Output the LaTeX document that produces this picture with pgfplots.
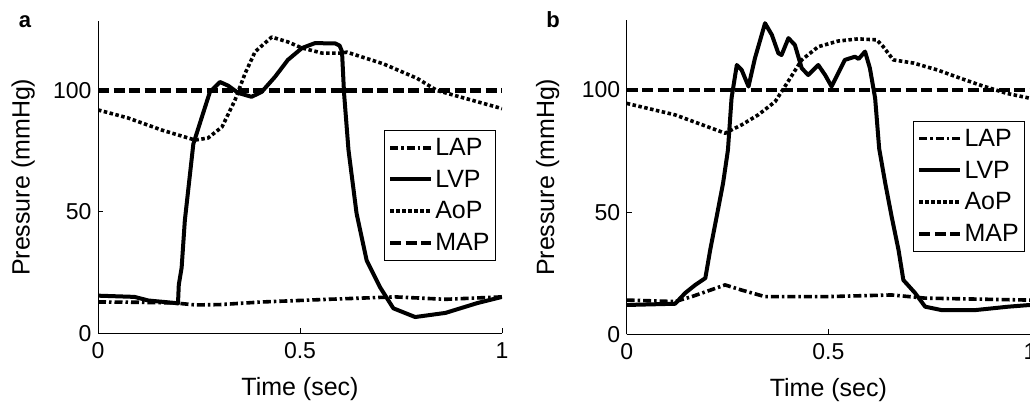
\documentclass[border=0pt]{standalone}
\usepackage{fontspec}
\setmainfont{Liberation Sans}
\usepackage{pgfplots}
\usepackage{pgfplotstable}
\pgfplotsset{compat=1.18}

% panel a
\pgfplotstableread{
t p
0 12.9
0.09 12.8
0.19 12.5
0.24 11.7
0.30 11.8
0.405 12.9
0.57 14
0.735 15
0.86 14
1.0 15
}\lapA
\pgfplotstableread{
t p
0 15.5
0.09 15
0.125 13.5
0.19 12.5
0.198 12.3
0.200 20
0.207 27
0.215 46.6
0.236 78
0.257 89
0.277 99.4
0.302 103.5
0.322 102
0.347 99
0.38 97.4
0.405 99.4
0.438 105.6
0.47 112.6
0.505 117.5
0.537 119.5
0.587 119.4
0.598 118.5
0.604 116
0.609 99
0.62 75.5
0.64 49.4
0.665 30
0.698 19
0.731 10.3
0.785 6.7
0.86 8.4
0.94 12.5
1.0 15
}\lvpA
\pgfplotstableread{
t p
0 92
0.074 88.7
0.158 83.7
0.24 79.6
0.272 80.4
0.307 85
0.339 96
0.364 107
0.389 116
0.43 122
0.47 120
0.505 117.5
0.555 115.4
0.604 115.4
0.616 115.8
0.706 111
0.79 105
0.839 100
0.904 97
0.99 93
1.0 92.5
}\aopA

% panel b
\pgfplotstableread{
t p
0 14
0.12 13.4
0.161 15.4
0.244 20.2
0.285 18.1
0.343 15.4
0.492 15.4
0.657 16.1
0.74 14.8
1 14
}\lapB
\pgfplotstableread{
t p
0 12
0.12 12.5
0.145 16.9
0.17 20.2
0.195 23
0.207 34.5
0.223 48.1
0.239 61.9
0.251 75.4
0.26 96.7
0.273 110.2
0.285 108.2
0.302 101.4
0.318 113
0.343 127.3
0.36 122.5
0.376 115
0.384 114.3
0.401 121.2
0.417 118.4
0.434 108.9
0.45 106.1
0.475 110.2
0.492 106.1
0.508 101.4
0.541 112.3
0.566 113.6
0.575 112.7
0.591 115.7
0.603 108.9
0.616 96.6
0.626 76
0.641 61.9
0.657 48.1
0.674 34.5
0.686 22.2
0.715 16.9
0.74 11.3
0.781 9.9
0.864 9.9
0.946 11.3
1 12
}\lvpB
\pgfplotstableread{
t p
0 94.5
0.12 89.8
0.244 82.3
0.285 85.7
0.326 89.8
0.368 95.2
0.4 103.4
0.434 112.3
0.475 117.7
0.524 120
0.574 120.9
0.62 120.5
0.636 117.7
0.661 112.3
0.711 111
0.77 108.2
0.827 104.8
0.876 102
0.942 98.6
1 96.6
}\aopB

\pgfplotsset{
  panel/.style={
    scale only axis,
    axis x line*=bottom, axis y line*=left,
    axis line style={-, line width=1pt},
    xmin=0, xmax=1, ymin=0, ymax=128.5,
    xtick={0,0.5,1}, ytick={0,50,100},
    tick align=inside, major tick length=5pt,
    tick style={line width=1pt, black},
    /pgf/number format/assume math mode=true,
    ticklabel style={font=\fontsize{23}{27}\selectfont},
    xticklabel style={yshift=-6pt},
    yticklabel style={xshift=-3pt},
    label style={font=\fontsize{25}{30}\selectfont},
    xlabel={Time (sec)}, ylabel={Pressure (mmHg)},
    xlabel style={at={(axis description cs:0.5,-0.178)}, anchor=center},
    legend cell align=left,
    legend style={draw=black, line width=1pt, font=\fontsize{25}{30}\selectfont,
      inner xsep=4pt, inner ysep=6pt, row sep=9pt, anchor=north east,
      nodes={inner xsep=2pt}},
    legend image code/.code={\draw[#1] (0pt,0pt) -- (41pt,0pt);},
  },
  lap/.style={black, line width=3.6pt, line join=round, dash pattern=on 8pt off 3pt on 2.5pt off 3pt},
  lvp/.style={black, line width=4pt, line join=round},
  aop/.style={black, line width=3.6pt, line join=round, dash pattern=on 3.5pt off 2.5pt},
  map/.style={black, line width=4.2pt, dash pattern=on 11pt off 4.5pt},
}

\begin{document}
\begin{tikzpicture}
\useasboundingbox (0,0) rectangle (1030pt,-403pt);

\begin{axis}[panel,
  at={(98pt,-333.3pt)}, anchor=south west,
  width=404pt, height=312pt,
  ylabel style={at={(axis description cs:-0.185,0.5)}, anchor=center},
  legend style={at={(axis description cs:0.985,0.652)}},
]
\addplot[lap] table[x=t,y=p] {\lapA};
\addplot[lvp] table[x=t,y=p] {\lvpA};
\addplot[aop] table[x=t,y=p] {\aopA};
\addplot[map] coordinates {(0,100) (1,100)};
\legend{LAP,LVP,AoP,MAP}
\end{axis}

\begin{axis}[panel,
  at={(626.7pt,-334.3pt)}, anchor=south west,
  width=403.3pt, height=314pt,
  ylabel style={at={(axis description cs:-0.196,0.5)}, anchor=center},
  legend style={at={(axis description cs:0.988,0.68)}},
]
\addplot[lap] table[x=t,y=p] {\lapB};
\addplot[lvp] table[x=t,y=p] {\lvpB};
\addplot[aop] table[x=t,y=p] {\aopB};
\addplot[map] coordinates {(0,100) (1,100)};
\legend{LAP,LVP,AoP,MAP}
\end{axis}

\node[font=\fontsize{22}{26}\selectfont\bfseries] at (25pt,-22pt) {a};
\node[font=\fontsize{22}{26}\selectfont\bfseries] at (553pt,-20pt) {b};
\end{tikzpicture}
\end{document}
